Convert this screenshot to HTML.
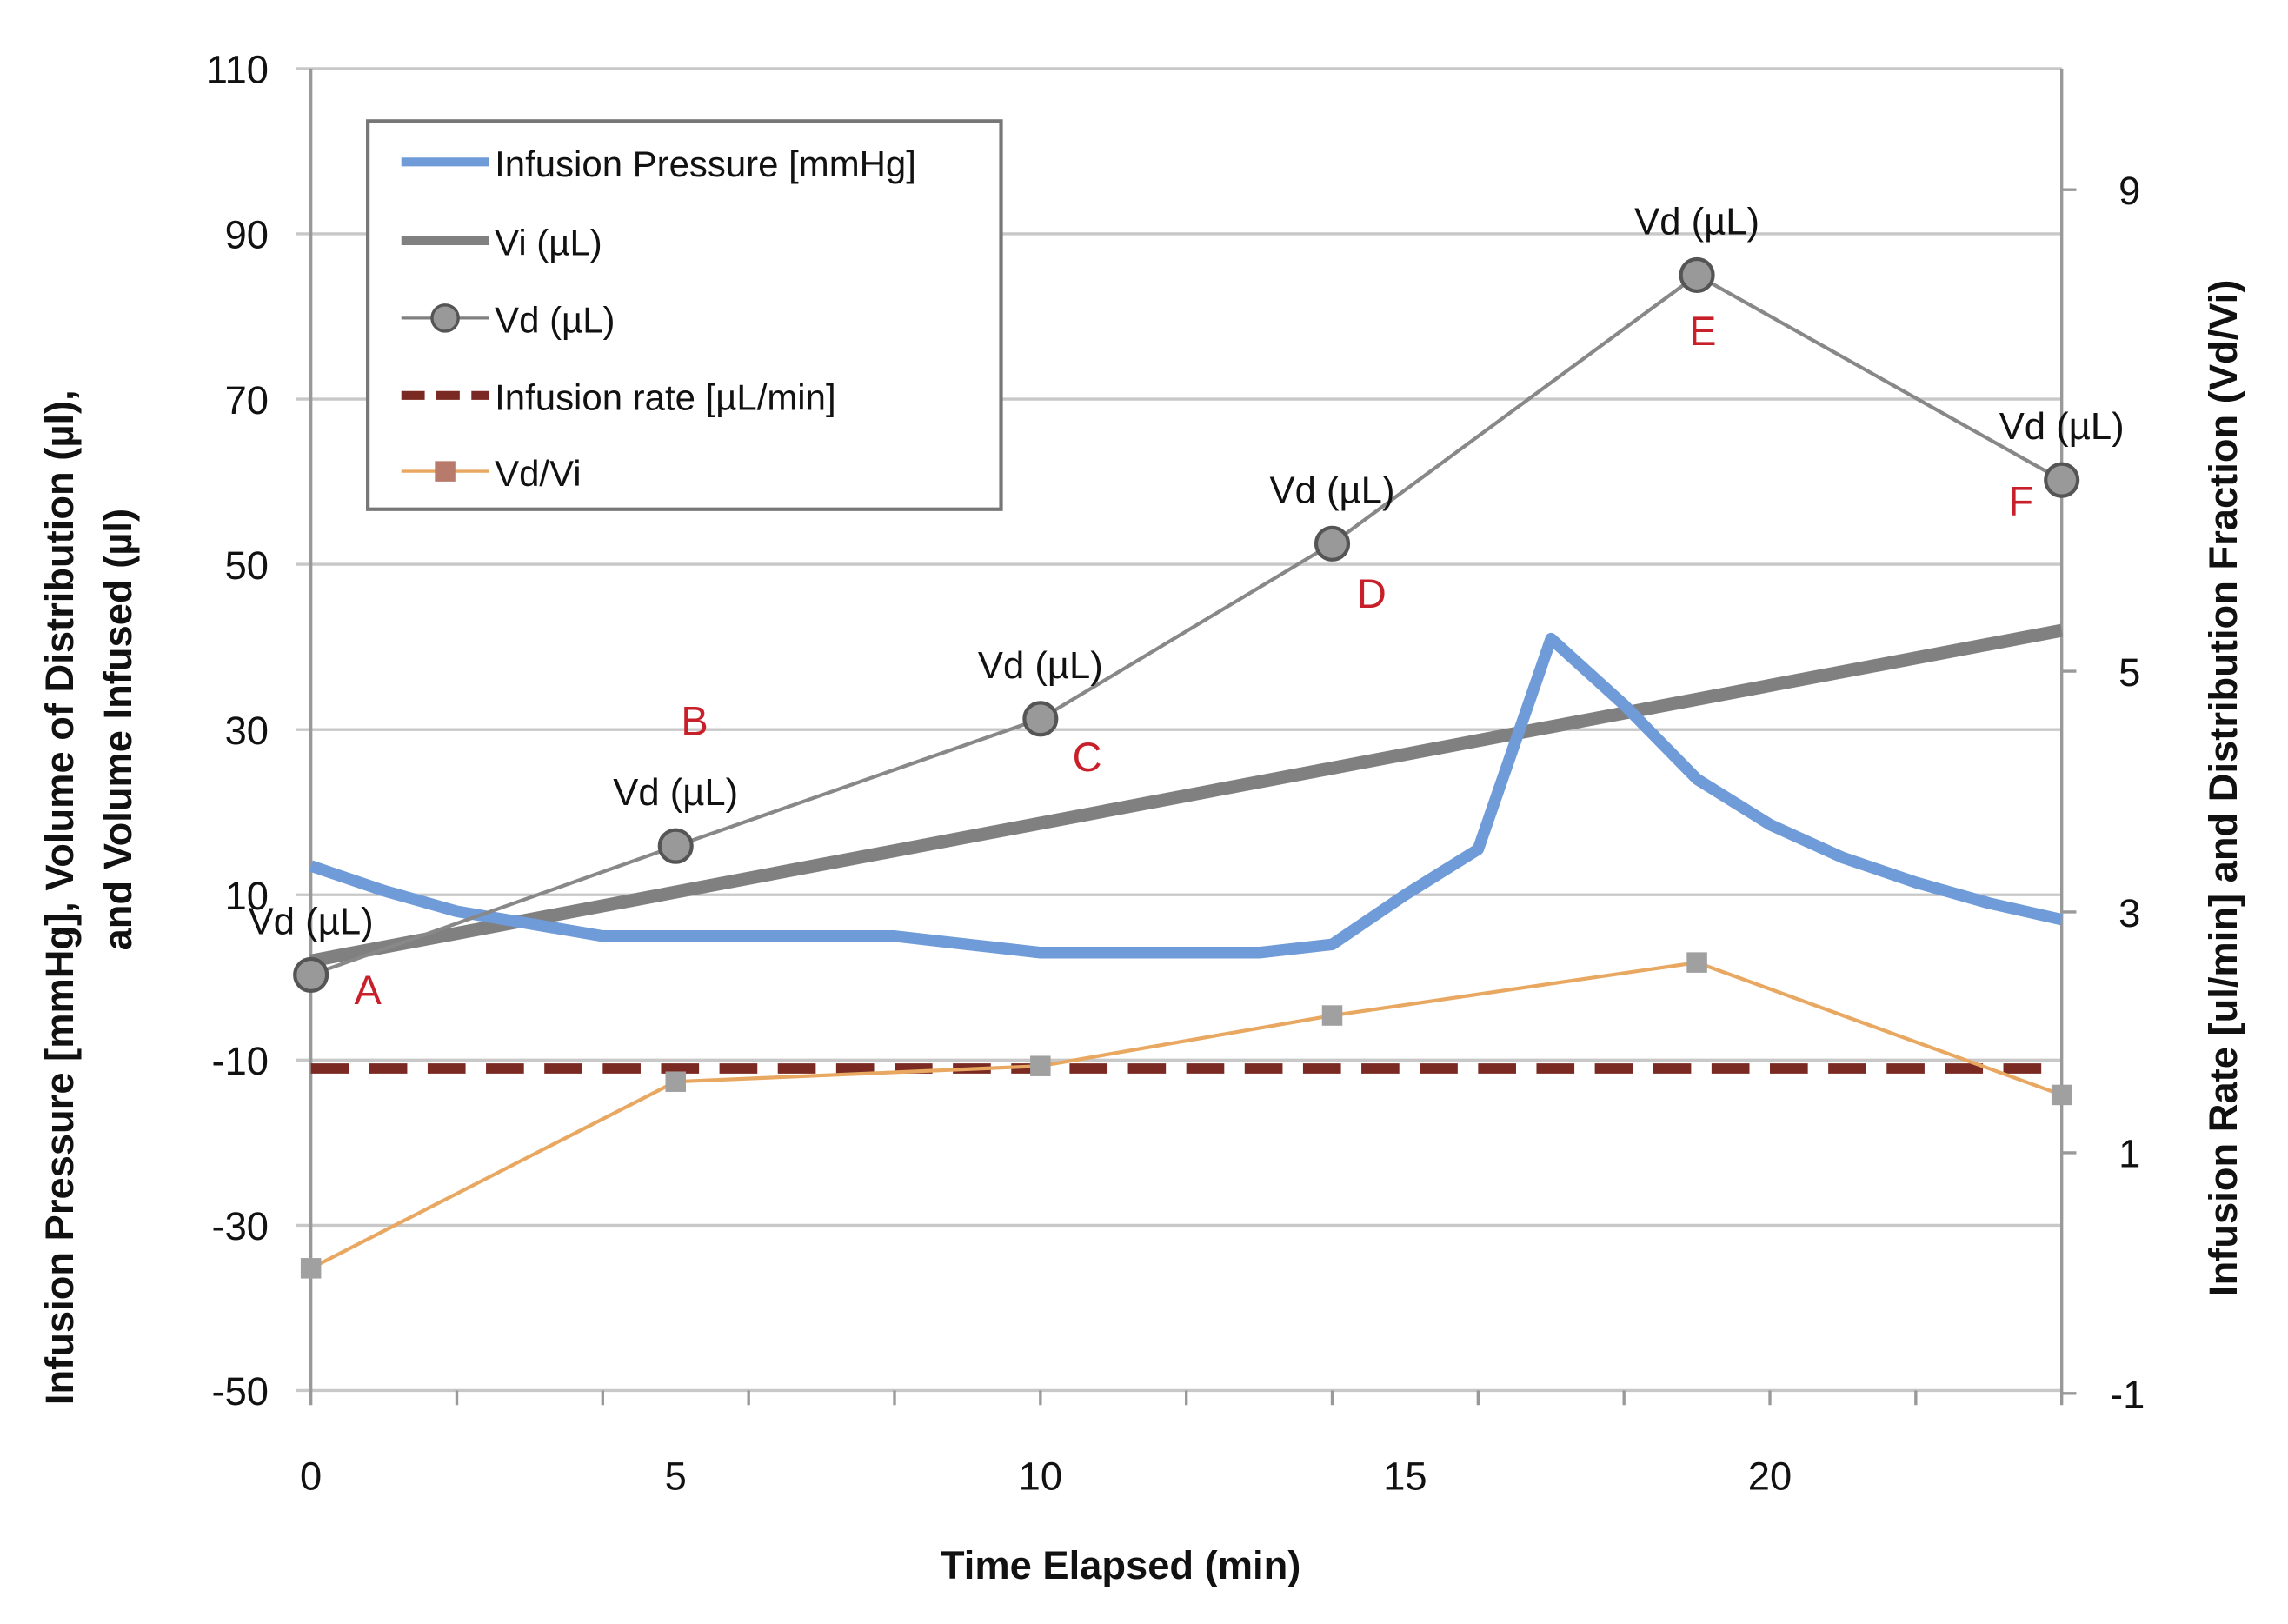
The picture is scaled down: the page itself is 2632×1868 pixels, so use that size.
<!DOCTYPE html>
<html><head><meta charset="utf-8"><style>
html,body{margin:0;padding:0;background:#fff;}
svg{display:block;font-family:"Liberation Sans",sans-serif;}
</style></head><body>
<svg id="chart" width="2632" height="1868" viewBox="0 0 1568 1113" xmlns="http://www.w3.org/2000/svg">
<g id="grid"></g>
<g id="axes"></g>
<g id="series"></g>
<g id="labels"></g>
<text x="768" y="1082" font-size="27" font-weight="bold" text-anchor="middle" fill="#111">Time Elapsed (min)</text>
<text transform="translate(50,615) rotate(-90)" font-size="27" font-weight="bold" text-anchor="middle" fill="#111">Infusion Pressure [mmHg], Volume of Distribution (µl),</text>
<text transform="translate(90,500) rotate(-90)" font-size="27" font-weight="bold" text-anchor="middle" fill="#111">and Volume Infused (µl)</text>
<text transform="translate(1533,540) rotate(-90)" font-size="27" font-weight="bold" text-anchor="middle" fill="#111">Infusion Rate [ul/min] and Distribution Fraction (Vd/Vi)</text>
<g>
<rect x="252" y="83" width="434" height="266" fill="#fff" stroke="#777" stroke-width="2.5"/>
<line x1="275" y1="111" x2="335" y2="111" stroke="#6f9bd8" stroke-width="6"/>
<text x="339" y="121" font-size="25" fill="#111">Infusion Pressure [mmHg]</text>
<line x1="275" y1="165" x2="335" y2="165" stroke="#808080" stroke-width="6"/>
<text x="339" y="175" font-size="25" fill="#111">Vi (µL)</text>
<line x1="275" y1="218" x2="335" y2="218" stroke="#808080" stroke-width="2"/>
<circle cx="305" cy="218" r="9" fill="#999" stroke="#555" stroke-width="2"/>
<text x="339" y="228" font-size="25" fill="#111">Vd (µL)</text>
<line x1="275" y1="271" x2="335" y2="271" stroke="#7a2a22" stroke-width="6" stroke-dasharray="16,8"/>
<text x="339" y="281" font-size="25" fill="#111">Infusion rate [µL/min]</text>
<line x1="275" y1="323" x2="335" y2="323" stroke="#e8a862" stroke-width="2"/>
<rect x="298" y="316" width="14" height="14" fill="#b87a6a"/>
<text x="339" y="333" font-size="25" fill="#111">Vd/Vi</text>
</g>
</svg>
<script>
const leftTicks=[110,90,70,50,30,10,-10,-30,-50];
const rightTicks=[9,5,3,1,-1];
const xTickLabels=[0,5,10,15,20];
const pressureT=[0,1,2,3,4,5,6,7,8,9,10,11,12,13,14,15,16,17,18,19,20,21,22,23,24];
const pressure=[13.5,10.5,8,6.5,5,5,5,5,5,4,3,3,3,3,4,10,15.5,41,33,24,18.5,14.5,11.5,9,7];
const viT=[0,24];
const vi=[2,42];
const vdT=[0,5,10,14,19,24];
const vd=[0.3,15.9,31.3,52.5,85,60.2];
const vdLetters=['A','B','C','D','E','F'];
const rateT=[0,24];
const rate=[1.7,1.7];
const ratioT=[0,5,10,14,19,24];
const ratio=[0.04,1.59,1.72,2.14,2.58,1.48];

const NS='http://www.w3.org/2000/svg';
const X0=213,X1=1413,YT=47,YB=953;
const xs=t=>X0+(t/24)*(X1-X0);
const yl=v=>YB-(v+50)/160*(YB-YT);
const yr=v=>955-(v+1)/10*825;
function mk(tag,attrs,parent){const e=document.createElementNS(NS,tag);for(const k in attrs)e.setAttribute(k,attrs[k]);parent.appendChild(e);return e;}
const grid=document.getElementById('grid'),axes=document.getElementById('axes'),ser=document.getElementById('series'),lab=document.getElementById('labels');
leftTicks.forEach(v=>{
  const l=mk('line',{x1:X0-10,x2:X1,y1:yl(v),y2:yl(v),stroke:'#c8c8c8','stroke-width':2},grid);
  
  
  const t=mk('text',{x:184,y:yl(v)+10,'font-size':27,'text-anchor':'end',fill:'#111'},axes);
  t.textContent=v;
  
  
});
mk('line',{x1:X0,x2:X0,y1:YT,y2:YB,stroke:'#999','stroke-width':2},axes);
mk('line',{x1:X1,x2:X1,y1:YT,y2:YB,stroke:'#999','stroke-width':2},axes);
rightTicks.forEach(v=>{
  mk('line',{x1:X1,x2:X1+10,y1:yr(v),y2:yr(v),stroke:'#999','stroke-width':2},axes);
  const t=mk('text',{x:v<0?1446:1452,y:yr(v)+10,'font-size':27,fill:'#111'},axes);
  t.textContent=v;
  
  
});
for(let t=0;t<=24;t+=2){mk('line',{x1:xs(t),x2:xs(t),y1:YB,y2:YB+10,stroke:'#999','stroke-width':2},axes);}
xTickLabels.forEach(v=>{
  const t=mk('text',{x:xs(v),y:1021,'font-size':27,'text-anchor':'middle',fill:'#111'},axes);
  t.textContent=v;
  
  
});
const pts=(T,V,f)=>T.map((t,i)=>xs(t)+','+f(V[i])).join(' ');
let p;
p=mk('polyline',{points:pts(rateT,rate,yr),fill:'none',stroke:'#7a2a22','stroke-width':7,'stroke-dasharray':'26,14'},ser);


p=mk('polyline',{points:pts(ratioT,ratio,yr),fill:'none',stroke:'#e8a862','stroke-width':2.5},ser);


ratioT.forEach((t,i)=>{const r=mk('rect',{x:xs(t)-7,y:yr(ratio[i])-7,width:14,height:14,fill:'#a0a0a0'},ser);
  
  });
p=mk('polyline',{points:pts(viT,vi,yl),fill:'none',stroke:'#808080','stroke-width':9},ser);


p=mk('polyline',{points:pts(pressureT,pressure,yl),fill:'none',stroke:'#6f9bd8','stroke-width':8,'stroke-linejoin':'round'},ser);


p=mk('polyline',{points:pts(vdT,vd,yl),fill:'none',stroke:'#888','stroke-width':2.5},ser);


const letterDx=[39,13,32,27,4,-28];
const letterDy=[20,-76,36,44,48,24];
vdT.forEach((t,i)=>{
  const c=mk('circle',{cx:xs(t),cy:yl(vd[i]),r:11,fill:'#999',stroke:'#555','stroke-width':2.5},ser);
  
  
  const tx=mk('text',{x:xs(t),y:yl(vd[i])-28,'font-size':26,'text-anchor':'middle',fill:'#111'},lab);
  tx.textContent='Vd (µL)';
  
  
  const le=mk('text',{x:xs(t)+letterDx[i],y:yl(vd[i])+letterDy[i],'font-size':28,'text-anchor':'middle',fill:'#c8202a'},lab);
  le.textContent=vdLetters[i];
  
  
});
</script>
</body></html>
